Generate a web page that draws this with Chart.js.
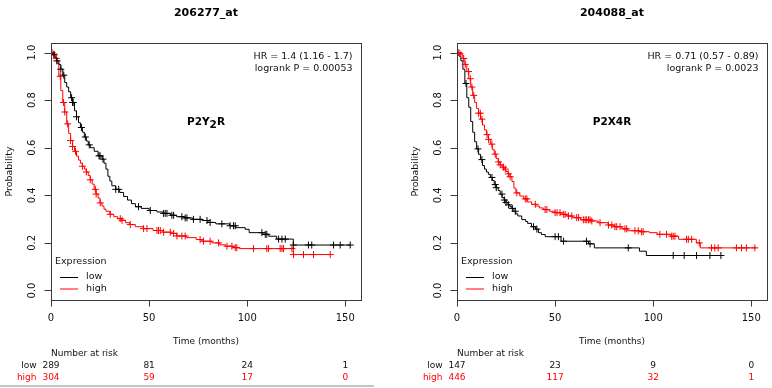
<!DOCTYPE html>
<html><head><meta charset="utf-8">
<script src="https://cdn.jsdelivr.net/npm/chart.js@4.4.1/dist/chart.umd.min.js"></script>
<style>
html,body{margin:0;padding:0;background:#fff;width:772px;height:388px;overflow:hidden}
#wrap{position:relative;width:772px;height:388px}
canvas{position:absolute;top:0}
#c1{left:0}
#c2{left:386px}
#rule{position:absolute;left:0;top:385px;width:374px;height:2px;background:#c4c4c4}
</style></head><body>
<div id="wrap"><canvas id="c1" width="386" height="388"></canvas><canvas id="c2" width="386" height="388"></canvas><div id="rule"></div></div>
<script>
// ---------- shared axis data ----------
const xTicks = [0, 50, 100, 150];
const yTicks = [0, 0.2, 0.4, 0.6, 0.8, 1.0];
const yTickLabels = ["0.0", "0.2", "0.4", "0.6", "0.8", "1.0"];
const riskTimes = [0, 50, 100, 150];
const groupNames = ["low", "high"];

// ---------- panel 1 : 206277_at ----------
const p1Title = "206277_at";
const p1HR = "HR = 1.4 (1.16 - 1.7)";
const p1P = "logrank P = 0.00053";
const p1Gene = [["P2Y", 0], ["2", 3], ["R", 0]];
const p1LowT = [0,1,2,3,4,5,6,7,8,9,10,11,12,13,14,15,16,17,18,19,20,22,24,26,27,28,29,30,31,33,35,37,39,41,43,46,50,54,57,61,64,68,72,77,80,84,91,94,99,101,108,111,115,123.5,152.5];
const p1LowS = [1,0.993,0.98,0.965,0.95,0.93,0.905,0.874,0.855,0.835,0.81,0.79,0.755,0.73,0.705,0.685,0.665,0.645,0.628,0.612,0.6,0.585,0.566,0.552,0.535,0.51,0.48,0.46,0.44,0.425,0.412,0.395,0.38,0.365,0.352,0.345,0.336,0.33,0.324,0.316,0.31,0.305,0.299,0.294,0.286,0.28,0.272,0.264,0.257,0.243,0.236,0.228,0.216,0.191,0.191];
const p1LowC = [1.5,3,5,6.5,10.5,11,11.3,13,15.5,17.5,19.5,24.5,25,26.5,33,34.5,44.6,50.6,57.4,58.2,59.1,61.6,62.5,66.7,68.4,69.3,72.6,76,79.5,81.1,87.1,91.3,93,93.9,107.5,109.2,110,116,117.7,119.4,123.5,131.2,132.9,144,147.4,152.5];
const p1HighT = [0,1,2,3,4,5,6,7,8,9,10,11,12,13,14,15,16,17,18,19,20,21,22,23,24,25,26,27,28,30,32,34,36,38,40,43,47,52,57,61,64,69,74,77,82,86,89,93,96,123.5,142.3];
const p1HighS = [1,0.99,0.975,0.955,0.9,0.84,0.79,0.75,0.7,0.66,0.63,0.605,0.585,0.565,0.548,0.535,0.522,0.51,0.498,0.483,0.465,0.447,0.425,0.405,0.388,0.368,0.355,0.342,0.333,0.32,0.31,0.302,0.295,0.285,0.277,0.268,0.26,0.252,0.245,0.24,0.229,0.222,0.214,0.207,0.2,0.192,0.186,0.18,0.176,0.151,0.151];
const p1HighC = [0.5,1.5,2.7,4.7,6.4,7,8.5,10,11,12.5,16,18,20,22.6,23,25.1,30.2,35.3,36.2,40.4,47.2,48.9,54,54.8,55.7,57.4,60.8,62.5,64.2,66.7,68.4,76,77.7,81.1,85.4,89.7,92.2,93.9,94.7,103.2,110,110.9,116.8,117.7,118.5,122.8,123.6,128.7,133.8,142.3];
const p1RiskLow = ["289", "81", "24", "1"];
const p1RiskHigh = ["304", "59", "17", "0"];

// ---------- panel 2 : 204088_at ----------
const p2Title = "204088_at";
const p2HR = "HR = 0.71 (0.57 - 0.89)";
const p2P = "logrank P = 0.0023";
const p2Gene = [["P2X4R", 0]];
const p2LowT = [0,1,2,3,4,5,6,7,8,9,10,11,12,13,14,15,16,17,18,19,20,21,22,23,24,25,26,27,28,29,30,31,33,35,36,38,40,41.5,43,45,53,67,70,93,96.5,134.5];
const p2LowS = [1,0.985,0.965,0.93,0.87,0.81,0.77,0.71,0.665,0.625,0.595,0.572,0.55,0.525,0.51,0.498,0.488,0.475,0.462,0.445,0.432,0.42,0.405,0.39,0.38,0.37,0.36,0.352,0.345,0.333,0.322,0.313,0.298,0.29,0.282,0.268,0.258,0.243,0.235,0.226,0.207,0.196,0.179,0.165,0.147,0.147];
const p2LowC = [4.6,10.7,12.7,17.8,19.5,20,22.9,24.2,25,26.3,28.2,29.7,39,40.7,50,51.7,54.3,66,67.8,87.3,110.2,115.8,122.1,128.9,134.5];
const p2HighT = [0,1,2,3,4,5,6,7,8,9,10,11,12,13,14,15,16,17,18,19,20,21,22,23,24,25,26,27,28,29,30,32,34,36,38,40,42,44,47,50,53,56,59,63,68,72,77,80,84,87,93,98,102,109,113,122,124,152.5];
const p2HighS = [1,0.995,0.99,0.975,0.95,0.92,0.89,0.855,0.82,0.79,0.765,0.745,0.72,0.695,0.675,0.655,0.635,0.615,0.592,0.573,0.555,0.54,0.528,0.518,0.51,0.5,0.49,0.478,0.458,0.43,0.41,0.397,0.385,0.372,0.362,0.355,0.347,0.34,0.333,0.327,0.32,0.313,0.306,0.297,0.292,0.285,0.275,0.268,0.259,0.251,0.247,0.243,0.236,0.228,0.215,0.2,0.179,0.179];
const p2HighC = [0.9,1.5,3.4,4.2,5.9,6.8,7.6,8.5,11,11.9,12.7,15.3,16.1,17.8,19.5,21.2,22,23.7,24.6,26.2,27.1,30.5,34.8,35.6,39.9,44.9,45.8,50,51,52.5,54.2,55.1,56.8,58.5,61,61.9,64.4,65.3,66.1,67,67.8,68.7,72.9,77.2,78.9,80.5,81.4,83.1,85.6,86.5,90.7,92.4,94.1,94.9,103.4,106.8,109.4,110.2,111.1,117,117.9,119.6,123.5,129.7,131.4,133.1,142.4,145,147.5,151.8];
const p2RiskLow = ["147", "23", "9", "0"];
const p2RiskHigh = ["446", "117", "32", "1"];

// ---------- helpers ----------
const FONT = '"DejaVu Sans", sans-serif';
const RED = '#ff0000', BLACK = '#000000';

function pts(T, S) { return T.map((t, i) => ({ x: t, y: S[i] })); }
function survAt(T, S, t) {           // look up the step curve level at time t
  let v = S[0];
  for (let i = 0; i < T.length; i++) { if (T[i] <= t) v = S[i]; else break; }
  return v;
}
function censorPts(C, T, S) { return C.map(t => ({ x: t, y: survAt(T, S, t) })); }

const decor = {
  id: 'decor',
  afterDraw(chart, args, o) {
    const ctx = chart.ctx, a = chart.chartArea, xs = chart.scales.x, ys = chart.scales.y;
    const L = Math.round(a.left) + 0.5, R = Math.round(a.right) + 0.5;
    const T = Math.round(a.top) + 0.5, B = Math.round(a.bottom) + 0.5;
    const cx = (a.left + a.right) / 2;
    ctx.save();
    ctx.strokeStyle = '#3a3a3a'; ctx.lineWidth = 1;
    ctx.strokeRect(L, T, R - L, B - T);
    ctx.fillStyle = '#111';
    ctx.textBaseline = 'middle';
    // y axis ticks + rotated labels
    ctx.font = '10px ' + FONT;
    yTicks.forEach((v, i) => {
      const y = Math.round(ys.getPixelForValue(v)) + 0.5;
      ctx.beginPath(); ctx.moveTo(L - 7, y); ctx.lineTo(L, y); ctx.stroke();
      ctx.save(); ctx.translate(a.left - 19, ys.getPixelForValue(v)); ctx.rotate(-Math.PI / 2);
      ctx.textAlign = 'center'; ctx.fillText(yTickLabels[i], 0, 0); ctx.restore();
    });
    // x axis ticks + labels
    xTicks.forEach(v => {
      const x = Math.round(xs.getPixelForValue(v)) + 0.5;
      ctx.beginPath(); ctx.moveTo(x, B); ctx.lineTo(x, B + 6); ctx.stroke();
      ctx.textAlign = 'center'; ctx.fillText(String(v), xs.getPixelForValue(v), 318);
    });
    // axis titles
    ctx.font = '9.5px ' + FONT;
    ctx.save(); ctx.translate(a.left - 41, (ys.getPixelForValue(0) + ys.getPixelForValue(1)) / 2);
    ctx.rotate(-Math.PI / 2); ctx.textAlign = 'center'; ctx.fillText('Probability', 0, 0); ctx.restore();
    ctx.font = '9px ' + FONT;
    ctx.textAlign = 'center'; ctx.fillText('Time (months)', cx, 342);
    // title
    ctx.font = 'bold 11px ' + FONT;
    ctx.fillStyle = '#000';
    ctx.fillText(o.title, cx, 13);
    // HR / p
    ctx.font = '9.5px ' + FONT; ctx.fillStyle = '#111';
    ctx.textAlign = 'right';
    ctx.fillText(o.hr, a.right - 8.5, 56.5);
    ctx.fillText(o.p, a.right - 8.5, 68.5);
    // gene label
    ctx.font = 'bold 10.5px ' + FONT; ctx.fillStyle = '#000';
    const widths = o.gene.map(g => ctx.measureText(g[0]).width);
    let gx = cx - widths.reduce((s, w) => s + w, 0) / 2;
    ctx.textAlign = 'left';
    o.gene.forEach((g, i) => { ctx.fillText(g[0], gx, 122 + g[1]); gx += widths[i]; });
    // legend
    ctx.font = '9.5px ' + FONT; ctx.fillStyle = '#111';
    ctx.fillText('Expression', a.left + 4, 262);
    [[BLACK, 277], [RED, 288.5]].forEach((c, i) => {
      ctx.strokeStyle = c[0]; ctx.beginPath();
      ctx.moveTo(a.left + 9, c[1] + 0.5); ctx.lineTo(a.left + 27, c[1] + 0.5); ctx.stroke();
      ctx.fillStyle = '#111'; ctx.textAlign = 'left';
      ctx.fillText(groupNames[i], a.left + 35, c[1]);
    });
    // number at risk
    ctx.font = '9px ' + FONT;
    ctx.fillStyle = '#111'; ctx.textAlign = 'left';
    ctx.fillText('Number at risk', xs.getPixelForValue(0), 354);
    [[o.riskLow, BLACK, 366], [o.riskHigh, RED, 378]].forEach((r, j) => {
      ctx.fillStyle = r[1] === BLACK ? '#111' : RED;
      ctx.textAlign = 'right';
      ctx.fillText(groupNames[j], a.left - 14.5, r[2]);
      ctx.textAlign = 'center';
      riskTimes.forEach((t, k) => ctx.fillText(r[0][k], xs.getPixelForValue(t), r[2]));
    });
    ctx.restore();
  }
};

function makeChart(id, pad, lowT, lowS, lowC, highT, highS, highC, deco) {
  const line = (T, S, col) => ({ data: pts(T, S), borderColor: col, borderWidth: 1, stepped: 'before', pointRadius: 0, fill: false, order: 2 });
  const cens = (C, T, S, col) => ({ data: censorPts(C, T, S), showLine: false, pointStyle: 'cross', pointRadius: 3.5, pointBorderWidth: 1, borderColor: col, pointBorderColor: col, backgroundColor: col, order: 1 });
  return new Chart(document.getElementById(id), {
    type: 'line',
    data: { datasets: [
      line(lowT, lowS, BLACK), line(highT, highS, RED),
      cens(lowC, lowT, lowS, BLACK), cens(highC, highT, highS, RED)
    ] },
    options: {
      responsive: false, animation: false, devicePixelRatio: 1,
      layout: { padding: pad },
      scales: {
        x: { type: 'linear', min: 0, max: 158, display: false },
        y: { type: 'linear', min: -0.04, max: 1.04, display: false }
      },
      plugins: { legend: { display: false }, tooltip: { enabled: false }, decor: deco },
      elements: { line: { tension: 0 } }
    },
    plugins: [decor]
  });
}

makeChart('c1', { left: 51, right: 25, top: 43, bottom: 88 },
  p1LowT, p1LowS, p1LowC, p1HighT, p1HighS, p1HighC,
  { title: p1Title, hr: p1HR, p: p1P, gene: p1Gene, riskLow: p1RiskLow, riskHigh: p1RiskHigh });
makeChart('c2', { left: 71, right: 5, top: 43, bottom: 88 },
  p2LowT, p2LowS, p2LowC, p2HighT, p2HighS, p2HighC,
  { title: p2Title, hr: p2HR, p: p2P, gene: p2Gene, riskLow: p2RiskLow, riskHigh: p2RiskHigh });
</script>
</body></html>
